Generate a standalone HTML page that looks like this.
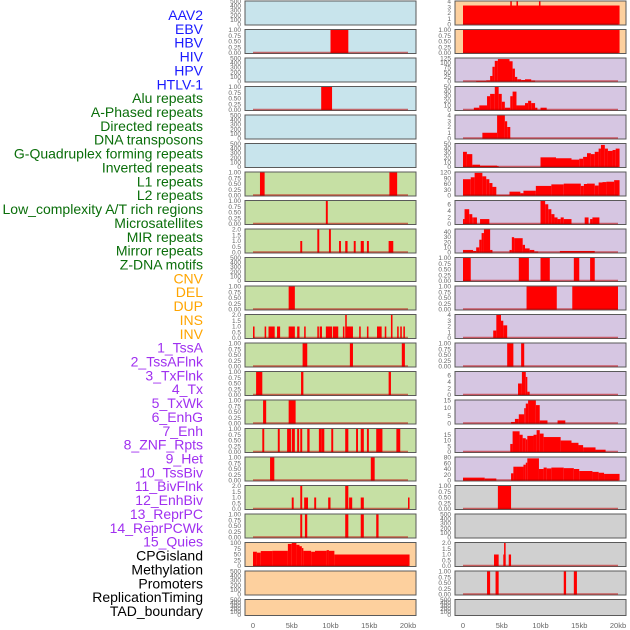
<!DOCTYPE html>
<html><head><meta charset="utf-8"><style>
body{margin:0;background:#fff;}
svg{display:block;font-family:"Liberation Sans",sans-serif;}
</style></head><body>
<svg id="chart" width="630" height="630" viewBox="0 0 630 630" xmlns="http://www.w3.org/2000/svg">
<g id="labels"></g>
<g id="panels"></g>
<g id="xaxes"></g>
</svg>
<script>
const trackLabels = ["AAV2","EBV","HBV","HIV","HPV","HTLV-1","Alu repeats","A-Phased repeats","Directed repeats","DNA transposons","G-Quadruplex forming repeats","Inverted repeats","L1 repeats","L2 repeats","Low_complexity A/T rich regions","Microsatellites","MIR repeats","Mirror repeats","Z-DNA motifs","CNV","DEL","DUP","INS","INV","1_TssA","2_TssAFlnk","3_TxFlnk","4_Tx","5_TxWk","6_EnhG","7_Enh","8_ZNF_Rpts","9_Het","10_TssBiv","11_BivFlnk","12_EnhBiv","13_ReprPC","14_ReprPCWk","15_Quies","CPGisland","Methylation","Promoters","ReplicationTiming","TAD_boundary"];
const labelGroups = [6,13,5,15,5];
const groupColors = ["#1a1aff","#0a6e0a","#ffa500","#a030f0","#000000"];
const xTickValues = [0,5,10,15,20];
const xTickLabels = ["0","5kb","10kb","15kb","20kb"];
// left column: [bg, max, segments [startKb,endKb,value]]
const leftMax = [0,1,0,1,0,0,1,1,2,0,1,2,1,1,1,1,1,2,1,100,0,0];
const leftBg = ["b","b","b","b","b","b","g","g","g","g","g","g","g","g","g","g","g","g","g","o","o","o"];
const leftSegs = [
 [],
 [[10,12.3,1]],
 [],
 [[8.8,10.2,1]],
 [],[],
 [[0.9,1.5,1],[17.6,18.6,1]],
 [[9.4,9.65,1]],
 [[6.1,6.35,1],[8.3,8.55,2],[9.8,10.05,2],[11.1,11.35,1],[11.9,12.2,1],[13.0,13.25,1],[13.9,14.3,1],[14.7,14.95,1],[17.5,18.1,1]],
 [],
 [[4.6,5.4,1]],
 [[0,0.2,1],[1.5,1.7,1],[2,2.8,1],[3.1,3.5,1],[4.6,5.4,1],[5.7,6.0,1],[6.6,6.8,1],[8.3,8.5,1],[8.6,8.9,1],[9.4,10.2,1],[10.3,11.0,1],[11.9,12.1,2],[11.6,11.8,1],[12.0,12.9,1],[13.7,13.9,1],[14.7,14.9,1],[16.0,16.6,1],[17.0,17.2,1],[17.8,18.0,2],[18.6,18.8,1],[19.0,19.2,1],[19.4,19.6,1]],
 [[6.4,7.0,1],[12.5,12.9,1],[19.2,19.6,1]],
 [[0.4,1.2,1],[6.2,6.5,1],[17.5,17.8,1]],
 [[1.3,1.7,1],[4.6,5.5,1]],
 [[1.2,1.45,1],[3.2,3.45,1],[4.4,4.9,1],[5.0,5.4,1],[5.7,5.95,1],[6.1,6.35,1],[7.0,7.3,1],[8.5,8.8,1],[8.8,9.2,1],[10.1,10.35,1],[11.9,12.3,1],[13.3,13.55,1],[13.9,14.3,1],[14.7,14.95,1],[15.9,16.7,1],[18.5,19.0,1]],
 [[2.2,2.75,1],[15.2,15.7,1]],
 [[5.0,5.25,1],[6.1,6.35,2],[6.6,7.1,1],[7.9,8.15,1],[9.7,10.0,1],[11.9,12.3,2],[12.4,12.8,1],[13.9,14.3,1],[20.0,20.2,1]],
 [[6.1,6.35,1],[6.7,7.0,1],[11.9,12.3,1],[13.9,14.3,1],[15.9,16.2,1]],
 [[0,0.5,62],[0.5,1,58],[1,2.5,65],[2.5,4.5,66],[4.5,5,96],[5,5.6,100],[5.6,6,92],[6,6.3,86],[6.3,6.5,78],[6.5,7.5,66],[7.5,8,62],[8,9.5,66],[9.5,9.8,69],[9.8,10.5,66],[10.5,20.2,50]],
 [],[]
];
const rightMax = [4,1,125,50,4,50,120,7,45,1,1,4,1,7,15,20,80,1,0,2,1,0];
const rightBg = ["o","o","p","p","p","p","p","p","p","p","p","p","p","p","p","p","p","y","y","y","y","y"];
const rightSegs = [
 [[0,20.2,3.3],[6.1,6.3,4],[6.9,7.1,4],[9.8,10.0,4]],
 [[0,20.2,1]],
 [[1.7,3,3],[3,3.5,6],[3.5,3.8,30],[3.8,4.1,80],[4.1,4.5,112],[4.5,6,122],[6,6.4,110],[6.4,6.7,70],[6.7,7,25],[7,7.5,12],[7.5,8,8],[8,8.8,12],[8.8,9.3,5]],
 [[1.4,2.1,5],[2.1,3.1,10],[3.1,3.5,30],[3.5,4.1,35],[4.1,4.6,50],[4.6,5,35],[5,5.4,18],[5.4,6.1,5],[6.1,6.4,30],[6.4,6.9,40],[6.9,8,10],[8,8.4,15],[8.4,8.8,20],[8.8,9.3,15],[9.3,9.6,5],[10,10.8,5]],
 [[2.5,4.4,1],[4.4,5.4,4],[5.4,5.7,3],[5.7,6.1,2]],
 [[0,0.5,33],[0.5,1.2,28],[1.2,2.2,5],[2.2,4.4,3],[4.4,4.5,2],[10,12,21],[12,14,19],[14,15,16],[15,15.5,18],[15.5,16,22],[16,16.5,30],[16.5,17,28],[17,17.5,33],[17.5,17.8,40],[17.8,18.3,48],[18.3,18.7,40],[18.7,19.3,35],[19.3,19.7,37],[19.7,20.2,40]],
 [[0,1,85],[1,1.5,95],[1.5,2.5,118],[2.5,3,100],[3,3.4,85],[3.4,3.8,65],[3.8,4.3,45],[4.3,6,2],[6,7.4,20],[7.4,7.8,12],[7.8,9.4,25],[9.4,11.4,50],[11.4,13,58],[13,15.2,62],[15.2,15.6,50],[15.6,16,60],[16,17,62],[17,17.5,52],[17.5,18,68],[18,18.5,70],[18.5,19.5,72],[19.5,20.2,80]],
 [[0,0.2,1.5],[0.2,0.8,4.5],[0.8,1.2,3],[1.2,1.4,2],[1.4,1.8,2],[2.2,3.4,1.5],[10,10.6,7],[10.6,11,6],[11,11.4,4.5],[11.4,11.8,3],[11.8,12.2,2],[12.2,12.6,1.5],[12.6,13,2],[13,14,1.5],[15.7,16.2,2],[16.4,16.7,1.5],[16.7,17.6,2]],
 [[0,1.3,5],[1.3,1.7,3],[1.7,2.1,10],[2.1,2.4,25],[2.4,2.7,38],[2.7,3.5,45],[3.5,3.8,5],[6,6.3,5],[6.3,6.6,30],[6.6,7.7,28],[7.7,8,15],[8,8.6,8],[8.6,9.2,5],[9.2,9.7,2],[12.5,17,3]],
 [[0,1,1],[7.2,8.5,1],[10,11.2,1],[14.3,15,1],[16.4,17,1]],
 [[8.2,12.1,1],[14.1,20,1]],
 [[3.9,4.3,1.3],[4.3,4.9,4],[4.9,5.2,3],[5.2,5.7,2.2]],
 [[5.7,6.5,1],[7.5,7.9,1]],
 [[7.1,7.6,3.5],[7.6,8.1,7],[8.1,8.3,5.5],[8.3,8.6,1]],
 [[6.2,6.7,1],[6.7,7.2,3],[7.2,7.9,6],[7.9,8.1,10],[8.1,8.4,13],[8.4,9.4,15],[9.4,9.9,12],[9.9,10.9,2],[12.2,13.2,2]],
 [[6.1,6.4,7],[6.4,7.3,18],[7.3,7.7,15],[7.7,8.1,12],[8.1,8.3,11],[8.3,9.1,14],[9.1,9.5,15],[9.5,9.9,19],[9.9,10.4,16],[10.4,12.6,13],[12.6,14,10],[14,14.9,8],[14.9,15.5,6],[15.5,17.1,4],[17.1,18.4,2]],
 [[0,2.8,10],[2.8,4.3,7],[6.2,6.5,25],[6.5,6.9,48],[6.9,7.8,48],[7.8,8.1,55],[8.1,8.3,62],[8.3,9.8,77],[9.8,10.4,40],[10.4,10.8,45],[10.8,11.4,42],[11.4,13,45],[13,14.3,43],[14.3,15,40],[15,16.7,33],[16.7,17.5,30],[17.5,18.2,27],[18.2,20.2,23]]
 ,[[4.5,6.2,1]],
 [],
 [[4.0,4.6,1],[5.2,5.5,1],[5.3,5.5,2],[5.9,6.2,1]],
 [[3.1,3.5,1],[4.2,4.6,1],[13.0,13.3,1],[14.3,14.7,1]],
 []
];
const bgColors = {b:"#c8e4ec",g:"#c6e0a4",o:"#fdd09e",p:"#d6c6e2",y:"#d0d0d0"};
const NS="http://www.w3.org/2000/svg";
function mk(tag, attrs, parent){const e=document.createElementNS(NS,tag);for(const k in attrs)e.setAttribute(k,attrs[k]);parent.appendChild(e);return e;}
// labels
const lg=document.getElementById('labels');
let gi=0,gc=0;
trackLabels.forEach((t,i)=>{
  while(gc>=labelGroups[gi]){gi++;gc=0;}
  gc++;
  const e=mk('text',{x:203,y:20+i*13.86,'text-anchor':'end','font-size':14,fill:groupColors[gi]},lg);
  
  
  e.textContent=t;
});
function ticksFor(max){
  if(max===0) return [0,100,200,300,400,500];
  if(max===1) return [0,0.25,0.5,0.75,1];
  if(max===2) return [0,0.5,1,1.5,2];
  if(max===4) return [0,1,2,3,4];
  if(max===7) return [0,2,4,6];
  if(max===15) return [0,5,10,15];
  if(max===20) return [0,5,10,15];
  if(max===45) return [0,10,20,30,40];
  if(max===50) return [0,10,20,30,40,50];
  if(max===80) return [0,20,40,60,80];
  if(max===100) return [0,25,50,75,100];
  if(max===120) return [0,30,60,90,120];
  if(max===125) return [0,25,50,75,100,125];
  return [0,max];
}
function fmt(v,max){ if(max===1) return v.toFixed(2); if(max===2) return v.toFixed(1); return String(v);}
const pg=document.getElementById('panels');
function drawCol(x0,x1,zeroX,maxes,bgs,segs,col){
  const sx=kb=>zeroX+kb*7.75;
  for(let r=0;r<22;r++){
    const top=1+r*28.5, h=(r===21)?16:24;
    const g=mk('g',{},pg);
    
    
    const rect=mk('rect',{x:x0,y:top,width:x1-x0,height:h,fill:bgColors[bgs[r]],stroke:'#5a5a5a','stroke-width':1},g);
    
    
    const max=maxes[r];
    const ymax=max===0?500:max;
    const sy=v=>top+h-0.5-v/ymax*(h-1);
    ticksFor(max).forEach(v=>{
      const t=mk('text',{x:x0-4,y:sy(v)+2,'text-anchor':'end','font-size':6.5,fill:'#666'},g);
      
      
      t.textContent=fmt(v,max);
    });
    if(max===0) continue;
    segs[r].forEach(s=>{
      const b=mk('rect',{x:sx(s[0]),y:sy(s[2]),width:Math.max(1.5,sx(s[1])-sx(s[0])),height:sy(0)-sy(s[2]),fill:'#ff0000'},g);
      
      
    });
    const bl=mk('line',{x1:sx(0),x2:sx(20),y1:sy(0)-0.5,y2:sy(0)-0.5,stroke:'rgba(190,0,0,0.55)','stroke-width':1.5},g);
    
    
  }
  const xg=document.getElementById('xaxes');
  xTickValues.forEach((v,i)=>{
    const t=mk('text',{x:sx(v),y:628,'text-anchor':'middle','font-size':7.5,fill:'#666'},xg);
    
    
    t.textContent=xTickLabels[i];
  });
}
drawCol(245,416,253,leftMax,leftBg,leftSegs,'left');
drawCol(455,626,463,rightMax,rightBg,rightSegs,'right');
</script>
</body></html>
